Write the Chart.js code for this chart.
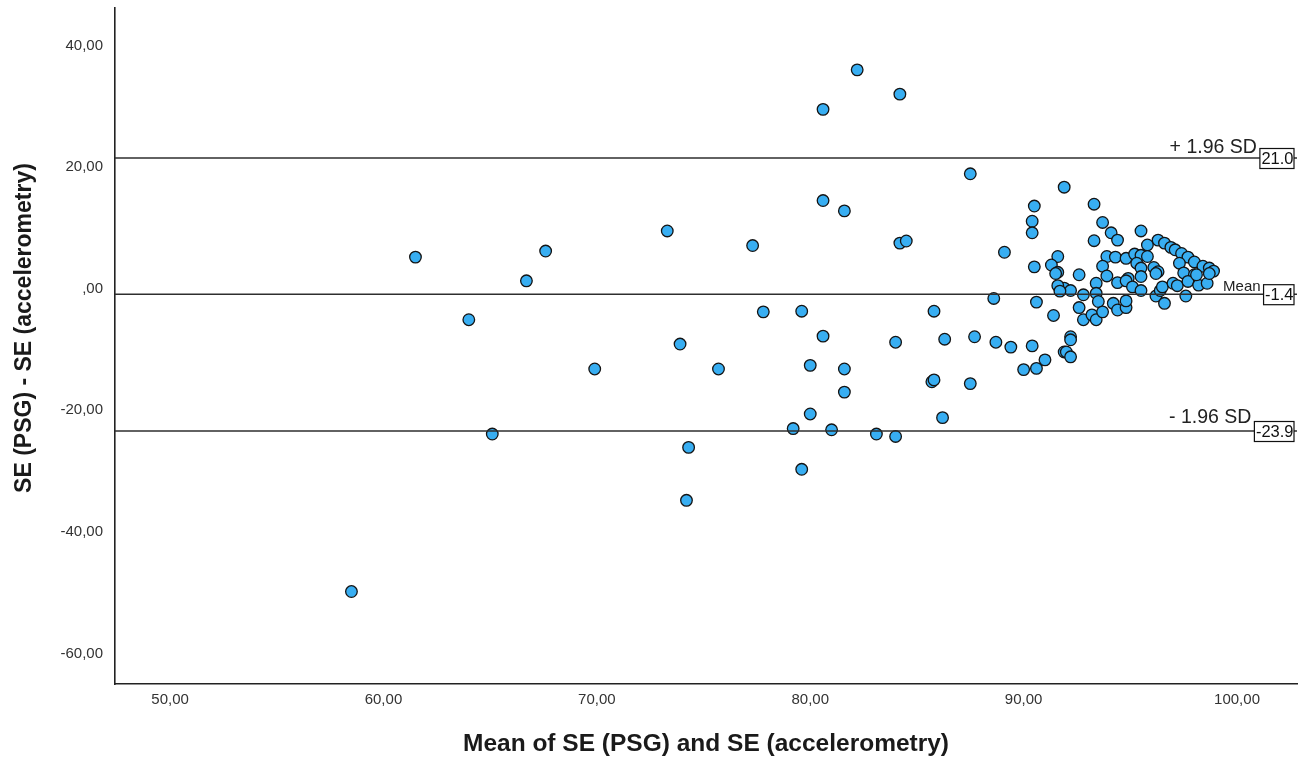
<!DOCTYPE html>
<html><head><meta charset="utf-8">
<script src="https://cdn.jsdelivr.net/npm/chart.js@4"></script>
<style>html,body{margin:0;padding:0;background:#fff}#wrap{width:1307px;height:765px;position:relative}</style>
</head><body><div id="wrap"><canvas id="c" width="1307" height="765"></canvas></div>
<script>
// Mean of the two methods (x) and their difference (y)
const meanSE = [
 58.5, 61.5, 64.0, 65.1, 66.7, 67.6, 69.9, 73.3, 73.9, 74.3,
 74.2, 75.7, 77.3, 77.8, 79.2, 79.6, 79.6, 80.0, 80.0, 80.6,
 80.6, 80.6, 81.0, 82.2, 81.6, 81.6, 81.6, 84.2, 83.1, 84.0,
 85.7, 85.8, 86.2, 87.5, 88.6, 90.6, 85.8, 91.4, 84.0, 86.3,
 87.7, 88.7, 89.4, 90.4, 91.0, 90.0, 90.6, 91.9, 87.5, 91.9,
 90.5, 90.4, 90.4, 84.2, 84.5, 89.1, 90.5, 91.6, 91.3, 91.6,
 93.3, 93.7, 94.1, 94.4, 93.3, 95.5, 95.8, 96.3, 96.6, 96.9,
 97.1, 97.4, 97.7, 98.0, 98.4, 98.7, 98.9, 93.9, 94.3, 94.8,
 95.2, 95.5, 95.8, 93.7, 95.3, 95.5, 96.1, 96.3, 97.3, 97.5,
 98.0, 92.6, 93.9, 94.9, 91.9, 92.2, 92.8, 93.4, 93.4, 93.5,
 92.6, 92.8, 93.2, 93.4, 93.7, 94.2, 94.4, 94.8, 94.8, 94.4,
 94.8, 95.1, 95.5, 95.5, 96.2, 96.4, 96.6, 96.5, 96.2, 97.0,
 97.2, 97.6, 97.7, 98.2, 98.6, 98.1, 98.7, 92.2, 92.2, 92.0,
 92.2, 91.6, 91.7, 91.5
];
const diffSE = [
 -50.3, 4.7, -5.6, -24.4, 0.8, 5.7, -13.7, 9.0, -9.6, -26.6,
 -35.3, -13.7, 6.6, -4.3, -23.5, -4.2, -30.2, -21.1, -13.1, 29.0,
 -8.3, 14.0, -23.7, 35.5, 12.3, -13.7, -17.5, 31.5, -24.4, -24.8,
 -15.8, -15.5, -21.7, -16.1, -2.1, -2.7, -4.2, -4.9, -9.3, -8.8,
 -8.4, -9.3, -10.1, -9.9, -12.2, -13.8, -13.6, -10.9, 18.4, 16.2,
 13.1, 10.6, 8.7, 7.0, 7.35, 5.5, 3.1, 4.8, 3.4, 2.2,
 13.4, 10.4, 8.7, 7.5, 7.4, 9.0, 6.7, 7.5, 7.0, 6.3,
 5.9, 5.3, 4.7, 3.9, 3.2, 2.9, 2.4, 4.8, 4.7, 4.5,
 5.2, 5.0, 4.8, 3.2, 3.7, 2.9, 3.0, 2.3, 3.7, 2.1,
 1.8, 1.8, 1.6, 1.2, -0.4, -0.8, -1.5, 0.4, -1.25, -2.6,
 -3.6, -5.6, -4.8, -5.6, -4.3, -2.9, -4.0, -3.6, -2.5, 0.5,
 0.8, -0.2, -0.8, 1.5, -1.7, -0.8, -2.9, -0.2, 2.0, 0.4,
 0.0, -1.7, 0.7, 0.1, 0.4, 1.8, 2.0, -8.4, -8.9, -10.9,
 -11.7, 0.0, -0.9, 2.0
];
// Limits of agreement
const limitValues = [21.0, -1.4, -23.9];
const limitNames = ['+ 1.96 SD', 'Mean', '- 1.96 SD'];
const limitBoxLabels = ['21.0', '-1.4', '-23.9'];
// Axes
const xTicks = [50, 60, 70, 80, 90, 100];
const xTickLabels = ['50,00', '60,00', '70,00', '80,00', '90,00', '100,00'];
const yTicks = [-60, -40, -20, 0, 20, 40];
const yTickLabels = ['-60,00', '-40,00', '-20,00', ',00', '20,00', '40,00'];
const xTitle = 'Mean of SE (PSG) and SE (accelerometry)';
const yTitle = 'SE (PSG) - SE (accelerometry)';
const X_MIN = 47.42, X_MAX = 102.81, Y_MIN = -65.51, Y_MAX = 45.67;

const points = meanSE.map((x, i) => ({x: x, y: diffSE[i]}));
const lineSets = limitValues.map(v => ({
  type: 'line',
  data: [{x: X_MIN, y: v}, {x: X_MAX, y: v}],
  borderColor: '#2e2e2e', borderWidth: 1.6, pointRadius: 0, fill: false,
  order: 0
}));

const labelPlugin = {
  id: 'loaLabels',
  afterDatasetsDraw(chart) {
    const {ctx, chartArea, scales} = chart;
    const nameOffsets = [5, 3, 8];
    const nameFonts = ['19.5px "Liberation Sans", Arial, sans-serif', '15px "Liberation Sans", Arial, sans-serif', '19.5px "Liberation Sans", Arial, sans-serif'];
    ctx.save();
    limitValues.forEach((v, i) => {
      const y = scales.y.getPixelForValue(v);
      ctx.font = '16.5px "Liberation Sans", Arial, sans-serif';
      const tw = ctx.measureText(limitBoxLabels[i]).width;
      const boxR = chartArea.right - 3;
      const boxW = tw + 2;
      const boxL = boxR - boxW;
      const boxT = y - 9.5, boxH = 20;
      ctx.fillStyle = '#fff';
      ctx.fillRect(boxL, boxT, boxW, boxH);
      ctx.strokeStyle = '#111';
      ctx.lineWidth = 1.2;
      ctx.strokeRect(boxL, boxT, boxW, boxH);
      ctx.fillStyle = '#111';
      ctx.textAlign = 'right';
      ctx.textBaseline = 'middle';
      ctx.fillText(limitBoxLabels[i], boxR - 0.5, y + 1);
      ctx.font = nameFonts[i];
      ctx.textBaseline = 'alphabetic';
      ctx.fillStyle = '#222';
      ctx.fillText(limitNames[i], boxL - 3, y - nameOffsets[i]);
    });
    // y axis title
    ctx.translate(25, 328);
    ctx.rotate(-Math.PI / 2);
    ctx.font = 'bold 23px "Liberation Sans", Arial, sans-serif';
    ctx.textAlign = 'center';
    ctx.textBaseline = 'middle';
    ctx.fillStyle = '#1a1a1a';
    ctx.fillText(yTitle, 0, 0);
    ctx.restore();
  }
};

new Chart(document.getElementById('c'), {
  type: 'scatter',
  data: {
    datasets: [
      ...lineSets,
      {
        type: 'scatter',
        data: points,
        backgroundColor: '#38aef2',
        borderColor: '#141414',
        borderWidth: 1.3,
        pointRadius: 5.8,
        pointHoverRadius: 5.8,
        order: 1
      }
    ]
  },
  options: {
    responsive: false,
    animation: false,
    devicePixelRatio: 1,
    layout: {padding: {left: 0, top: 8, right: 10, bottom: 0}},
    plugins: {legend: {display: false}, tooltip: {enabled: false}},
    scales: {
      x: {
        type: 'linear', min: X_MIN, max: X_MAX,
        grid: {display: false, drawTicks: false},
        border: {display: true, color: '#222', width: 1.6},
        afterBuildTicks: s => { s.ticks = xTicks.map(v => ({value: v})); },
        afterFit: s => { s.height = 81; s.paddingLeft = 0; s.paddingRight = 0; },
        ticks: {
          padding: 7, color: '#333', maxRotation: 0, autoSkip: false,
          font: {family: '"Liberation Sans", Arial, sans-serif', size: 15},
          callback: (v) => { const i = xTicks.indexOf(v); return i >= 0 ? xTickLabels[i] : ''; }
        },
        title: {
          display: true, text: xTitle, color: '#1a1a1a',
          font: {family: '"Liberation Sans", Arial, sans-serif', size: 24.5, weight: 'bold'},
          padding: {top: 0, bottom: 6}
        }
      },
      y: {
        type: 'linear', min: Y_MIN, max: Y_MAX,
        grid: {display: false, drawTicks: false},
        border: {display: true, color: '#222', width: 1.6},
        afterBuildTicks: s => { s.ticks = yTicks.map(v => ({value: v})); },
        afterFit: s => { s.width = 115; s.paddingTop = 0; s.paddingBottom = 0; },
        ticks: {
          padding: 12, color: '#333', labelOffset: 3, autoSkip: false,
          font: {family: '"Liberation Sans", Arial, sans-serif', size: 15},
          callback: (v) => { const i = yTicks.indexOf(v); return i >= 0 ? yTickLabels[i] : ''; }
        },
        title: {display: false}
      }
    }
  },
  plugins: [labelPlugin]
});
</script>
</body></html>
